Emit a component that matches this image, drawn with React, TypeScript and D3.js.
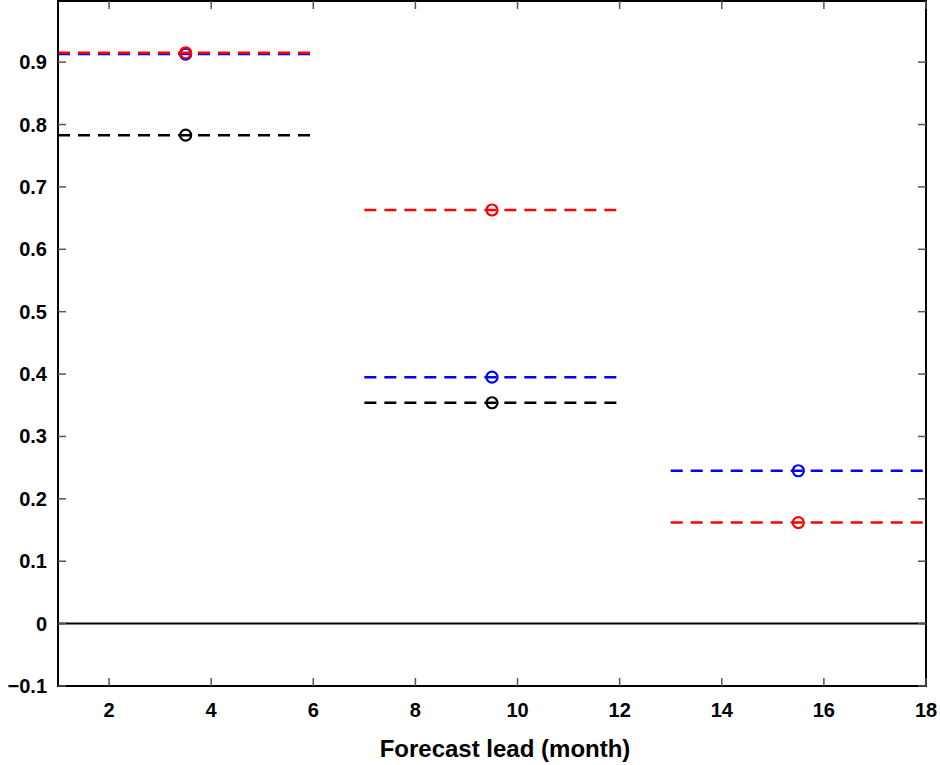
import { useEffect, useRef } from "react";
import * as d3 from "d3";

const periods = [
  { start: 1, end: 6, mid: 3.5 },
  { start: 7, end: 12, mid: 9.5 },
  { start: 13, end: 18, mid: 15.5 },
];
const blackValues = [0.783, 0.354, null];
const blueValues = [0.913, 0.395, 0.245];
const redValues = [0.915, 0.663, 0.162];
const xTicks = [2, 4, 6, 8, 10, 12, 14, 16, 18];
const yTicks = [-0.1, 0, 0.1, 0.2, 0.3, 0.4, 0.5, 0.6, 0.7, 0.8, 0.9];

export default function App() {
  const ref = useRef<SVGSVGElement>(null);

  useEffect(() => {
    if (!ref.current) return;
    const svg = d3.select(ref.current);
    svg.selectAll("*").remove();

    const width = 940;
    const height = 765;
    const m = { left: 58, right: 926, top: 1, bottom: 686 };
    const x = d3.scaleLinear().domain([1, 18]).range([m.left, m.right]);
    const y = d3.scaleLinear().domain([-0.1, 0.998]).range([m.bottom, m.top]);
    const font = "'Liberation Sans', Arial, sans-serif";

    svg.attr("width", width).attr("height", height);

    // zero line
    svg.append("line")
      .attr("x1", m.left).attr("x2", m.right)
      .attr("y1", y(0)).attr("y2", y(0))
      .attr("stroke", "#000").attr("stroke-width", 2);

    const series = [
      { values: blackValues, color: "#000" },
      { values: blueValues, color: "#0000ff" },
      { values: redValues, color: "#ff0000" },
    ];
    series.forEach((s) => {
      s.values.forEach((v, i) => {
        if (v == null) return;
        const p = periods[i];
        svg.append("line")
          .attr("x1", x(p.start)).attr("x2", x(p.end))
          .attr("y1", y(v)).attr("y2", y(v))
          .attr("stroke", s.color).attr("stroke-width", 2.5)
          .attr("stroke-dasharray", "12,8");
        svg.append("circle")
          .attr("cx", x(p.mid)).attr("cy", y(v)).attr("r", 5.5)
          .attr("fill", "none").attr("stroke", s.color).attr("stroke-width", 2.2);
      });
    });

    // frame
    svg.append("rect")
      .attr("x", m.left).attr("y", m.top)
      .attr("width", m.right - m.left).attr("height", m.bottom - m.top)
      .attr("fill", "none").attr("stroke", "#000").attr("stroke-width", 2);

    const tick = 8;
    const gx = svg.append("g");
    xTicks.forEach((t) => {
      gx.append("line").attr("x1", x(t)).attr("x2", x(t))
        .attr("y1", m.bottom).attr("y2", m.bottom - tick).attr("stroke", "#555").attr("stroke-width", 1.5);
      gx.append("line").attr("x1", x(t)).attr("x2", x(t))
        .attr("y1", m.top).attr("y2", m.top + tick).attr("stroke", "#555").attr("stroke-width", 1.5);
      gx.append("text").attr("x", x(t)).attr("y", m.bottom + 31)
        .attr("text-anchor", "middle").attr("font-family", font)
        .attr("font-weight", "bold").attr("font-size", 20).text(String(t));
    });
    const gy = svg.append("g");
    yTicks.forEach((t) => {
      gy.append("line").attr("x1", m.left).attr("x2", m.left + tick)
        .attr("y1", y(t)).attr("y2", y(t)).attr("stroke", "#555").attr("stroke-width", 1.5);
      gy.append("line").attr("x1", m.right).attr("x2", m.right - tick)
        .attr("y1", y(t)).attr("y2", y(t)).attr("stroke", "#555").attr("stroke-width", 1.5);
      gy.append("text").attr("x", m.left - 11).attr("y", y(t) + 7)
        .attr("text-anchor", "end").attr("font-family", font)
        .attr("font-weight", "bold").attr("font-size", 20)
        .text(t === 0 ? "0" : d3.format(".1f")(t).replace("-", "\u2212"));
    });

    svg.append("text")
      .attr("x", (m.left + m.right) / 2 + 13).attr("y", 757)
      .attr("text-anchor", "middle").attr("font-family", font)
      .attr("font-weight", "bold").attr("font-size", 24)
      .text("Forecast lead (month)");
  }, []);

  return <svg ref={ref} style={{ position: "absolute", left: 0, top: 0 }} />;
}
